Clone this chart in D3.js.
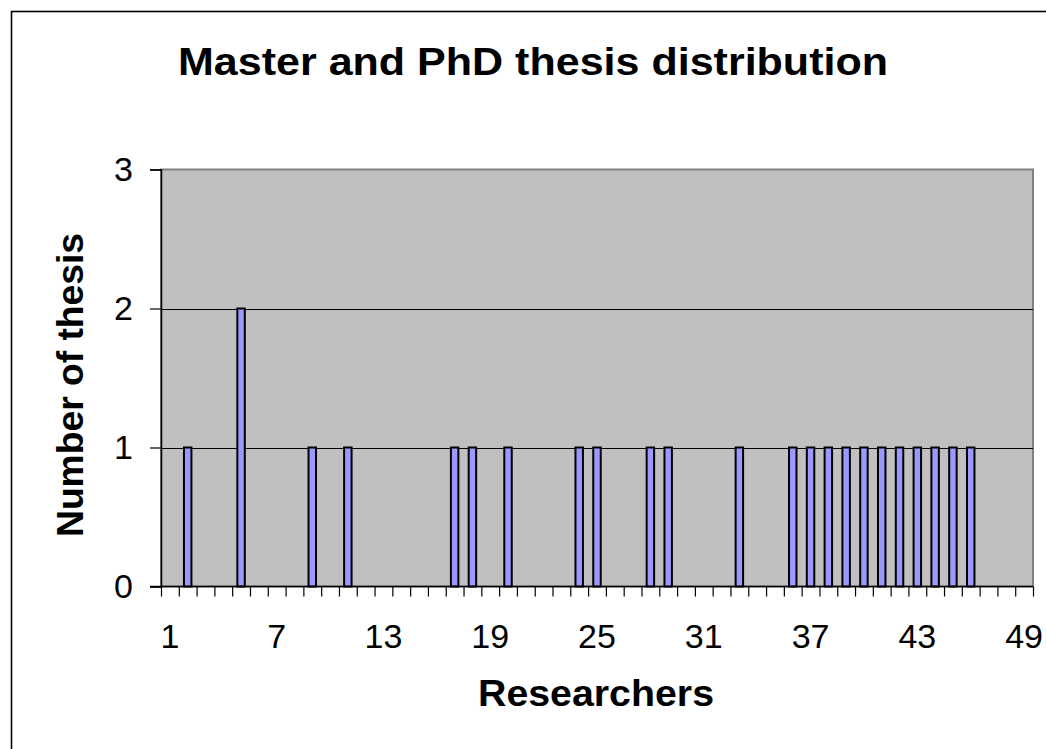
<!DOCTYPE html>
<html>
<head>
<meta charset="utf-8">
<script src="https://cdn.jsdelivr.net/npm/d3@7"></script>
<style>
  html, body { margin: 0; padding: 0; background: #fff; }
  svg { display: block; }
  text { font-family: "Liberation Sans", Arial, Helvetica, sans-serif; }
</style>
</head>
<body>
<svg id="chart" width="1046" height="749"></svg>
<script>
// ---- data ----
const researchers = d3.range(1, 50);            // categories 1..49
const oneThesis = [2, 9, 11, 17, 18, 20, 24, 25, 28, 29, 33, 36, 37, 38, 39, 40, 41, 42, 43, 44, 45, 46];
const twoThesis = [5];
const thesisCounts = researchers.map(r => twoThesis.includes(r) ? 2 : (oneThesis.includes(r) ? 1 : 0));
const xTickLabels = [1, 7, 13, 19, 25, 31, 37, 43, 49];
const yTickValues = [0, 1, 2, 3];
const titleText = "Master and PhD thesis distribution";
const xTitle = "Researchers";
const yTitle = "Number of thesis";

// ---- layout ----
const plot = { left: 161, right: 1033, top: 169.5, bottom: 586.5 };

const svg = d3.select("#chart");

// outer frame (clipped on right/bottom)
svg.append("rect")
  .attr("x", 11.5).attr("y", 11.5)
  .attr("width", 1200).attr("height", 1000)
  .attr("fill", "#fff").attr("stroke", "#000").attr("stroke-width", 1.6);

const x = d3.scaleBand()
  .domain(researchers)
  .range([plot.left, plot.right])
  .paddingInner(0.58)
  .paddingOuter(0.29);

const xEdges = d3.scaleLinear().domain([0, researchers.length]).range([plot.left, plot.right]);

const y = d3.scaleLinear().domain([0, 3]).range([plot.bottom, plot.top]);

// plot background
svg.append("rect")
  .attr("x", plot.left).attr("y", plot.top)
  .attr("width", plot.right - plot.left).attr("height", plot.bottom - plot.top)
  .attr("fill", "#C0C0C0").attr("stroke", "#808080").attr("stroke-width", 2);

// gridlines
svg.append("g")
  .selectAll("line")
  .data([1, 2])
  .join("line")
  .attr("x1", plot.left).attr("x2", plot.right)
  .attr("y1", d => Math.round(y(d)) + 0.5).attr("y2", d => Math.round(y(d)) + 0.5)
  .attr("stroke", "#000").attr("stroke-width", 1);

// bars
svg.append("g")
  .selectAll("rect")
  .data(researchers.map((r, i) => ({ r, v: thesisCounts[i] })).filter(d => d.v > 0))
  .join("rect")
  .attr("x", d => x(d.r))
  .attr("y", d => y(d.v))
  .attr("width", x.bandwidth())
  .attr("height", d => y(0) - y(d.v))
  .attr("fill", "#9999FF")
  .attr("stroke", "#000")
  .attr("stroke-width", 2);

// x axis tick marks at category boundaries
const xTicksG = svg.append("g")
  .attr("transform", `translate(0,${plot.bottom})`)
  .call(d3.axisBottom(xEdges).tickValues(d3.range(0, researchers.length + 1)).tickSize(10).tickFormat(""));
xTicksG.select(".domain").remove();
xTicksG.selectAll("line").attr("stroke", "#000").attr("stroke-width", 1.2);

// x axis labels
const xLab = svg.append("g")
  .attr("transform", `translate(0,${plot.bottom})`)
  .call(d3.axisBottom(x).tickValues(xTickLabels).tickSize(0).tickPadding(37));
xLab.select(".domain").remove();
xLab.selectAll("text")
  .attr("font-size", 34)
  .attr("font-family", "'Liberation Sans', Arial, sans-serif")
  .attr("fill", "#000");

// x axis line (extends to y tick length)
svg.append("line")
  .attr("x1", plot.left - 11).attr("x2", plot.right)
  .attr("y1", plot.bottom).attr("y2", plot.bottom)
  .attr("stroke", "#000").attr("stroke-width", 1.5);

// y axis
const yAx = svg.append("g")
  .attr("transform", `translate(${plot.left},0)`)
  .call(d3.axisLeft(y).tickValues(yTickValues).tickSize(11).tickPadding(17).tickFormat(d3.format("d")));
yAx.select(".domain").attr("stroke", "#000").attr("stroke-width", 1.5);
yAx.selectAll("line").attr("stroke", "#000").attr("stroke-width", 1.2);
yAx.selectAll("text")
  .attr("font-size", 34)
  .attr("font-family", "'Liberation Sans', Arial, sans-serif")
  .attr("fill", "#000");

// title
svg.append("text")
  .attr("x", 533).attr("y", 75)
  .attr("text-anchor", "middle")
  .attr("font-size", 38).attr("font-weight", "bold")
  .attr("textLength", 710).attr("lengthAdjust", "spacingAndGlyphs")
  .text(titleText);

// x title
svg.append("text")
  .attr("x", 596).attr("y", 706)
  .attr("text-anchor", "middle")
  .attr("font-size", 36).attr("font-weight", "bold")
  .attr("textLength", 236).attr("lengthAdjust", "spacingAndGlyphs")
  .text(xTitle);

// y title
svg.append("text")
  .attr("transform", "translate(83,385) rotate(-90)")
  .attr("text-anchor", "middle")
  .attr("font-size", 37).attr("font-weight", "bold")
  .attr("textLength", 304).attr("lengthAdjust", "spacingAndGlyphs")
  .text(yTitle);
</script>
</body>
</html>
